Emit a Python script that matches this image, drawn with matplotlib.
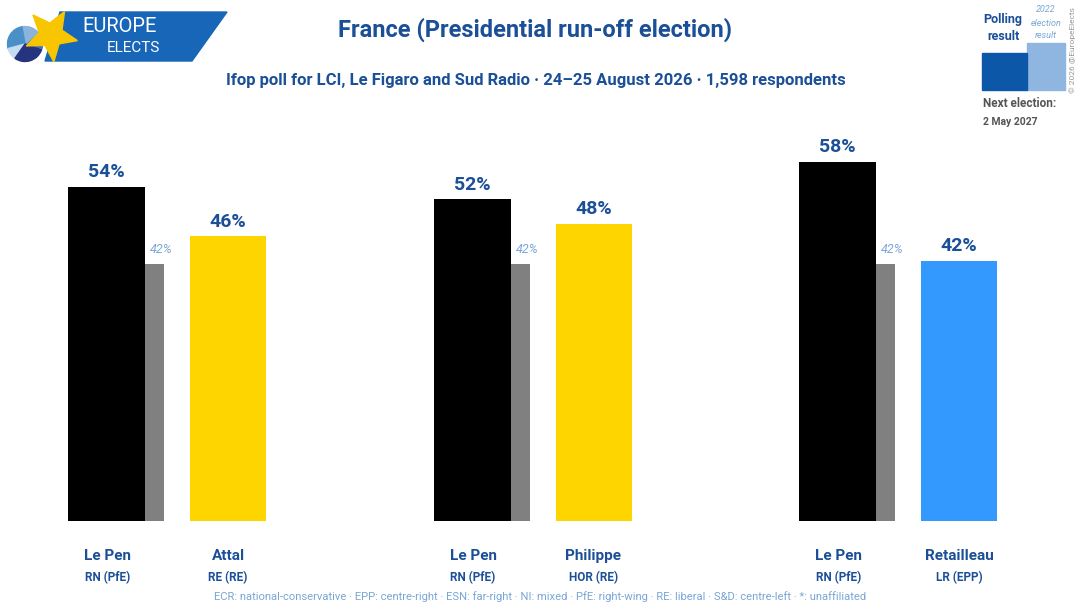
import matplotlib
matplotlib.use("Agg")
import matplotlib.pyplot as plt
from matplotlib.patches import Polygon, Rectangle, Wedge
import numpy as np

# data
names_a = ["Le Pen", "Le Pen", "Le Pen"]
parties_a = ["RN (PfE)", "RN (PfE)", "RN (PfE)"]
names_b = ["Attal", "Philippe", "Retailleau"]
parties_b = ["RE (RE)", "HOR (RE)", "LR (EPP)"]
poll_a = [54, 52, 58]
poll_b = [46, 48, 42]
prev_a = [41.5, 41.5, 41.5]   # 2022 result, shown as 42%
colors_a = ["#000000", "#000000", "#000000"]
colors_b = ["#FFD500", "#FFD500", "#3399FF"]

title = "France (Presidential run-off election)"
subtitle = "Ifop poll for LCI, Le Figaro and Sud Radio · 24–25 August 2026 · 1,598 respondents"
footer = ("ECR: national-conservative · EPP: centre-right · ESN: far-right · NI: mixed · "
          "PfE: right-wing · RE: liberal · S&D: centre-left · *: unaffiliated")

navy = "#1b4f98"
light = "#7aa6d6"
plt.rcParams['font.family'] = ['Roboto', 'DejaVu Sans']

W, H = 1080, 609
fig = plt.figure(figsize=(W / 100, H / 100), dpi=100)

# bar axes: x in pixels, y in percent (6.19 px per %)
ax = fig.add_axes([0, 88 / H, 1, 60 * 6.19 / H])
ax.set_xlim(0, W)
ax.set_ylim(0, 60)
ax.axis("off")

step = 365.5
wa, wg, wb, gap = 77, 19, 76, 26
for i in range(3):
    xa = 68 + i * step
    xg = xa + wa
    xb = xg + wg + gap
    ax.bar(xa, poll_a[i], width=wa, align="edge", color=colors_a[i])
    ax.bar(xg, prev_a[i], width=wg, align="edge", color="#808080")
    ax.bar(xb, poll_b[i], width=wb, align="edge", color=colors_b[i])
    ax.text(xa + wa / 2, poll_a[i] + 0.9, f"{poll_a[i]}%", ha="center", va="bottom",
            fontsize=14, fontweight="bold", color=navy)
    ax.text(xb + wb / 2, poll_b[i] + 0.9, f"{poll_b[i]}%", ha="center", va="bottom",
            fontsize=14, fontweight="bold", color=navy)
    ax.text(xg + wg / 2 + 7, prev_a[i] + 1.3, f"{prev_a[i]:.0f}%", ha="center", va="bottom",
            fontsize=9, fontstyle="italic", color=light)
    # candidate labels under bars
    for xc, nm, pt in [(xa + wa / 2 + 1, names_a[i], parties_a[i]),
                       (xb + wb / 2, names_b[i], parties_b[i])]:
        fig.text(xc / W, 1 - 556 / H, nm, ha="center", va="center",
                 fontsize=11, fontweight="bold", color=navy)
        fig.text(xc / W, 1 - 578 / H, pt, ha="center", va="center",
                 fontsize=8.5, fontweight="bold", color=navy)

# titles
fig.text(535 / W, 1 - 30 / H, title, ha="center", va="center",
         fontsize=17, fontweight="bold", color=navy)
fig.text(536 / W, 1 - 81 / H, subtitle, ha="center", va="center",
         fontsize=12, fontweight="bold", color=navy)
fig.text(540 / W, 1 - 597 / H, footer, ha="center", va="center",
         fontsize=8.1, color=light)

# logo
lg = fig.add_axes([0, 1 - 70 / H, 300 / W, 70 / H])
lg.set_xlim(0, 300)
lg.set_ylim(70, 0)
lg.axis("off")
lg.add_patch(Polygon([[60, 12], [227, 12], [192, 61], [45, 61]], color="#1766b8"))
pie_c = (25, 44)
for a1, a2, c in [(-20, 40, "#3f6fb8"), (40, 100, "#8ab4dc"), (100, 195, "#4a90c8"),
                  (195, 235, "#c5dbef"), (235, 340, "#26347f")]:
    lg.add_patch(Wedge(pie_c, 17.5, -a2, -a1, color=c))
ang = np.deg2rad(-132 + 36 * np.arange(10))
rad = np.where(np.arange(10) % 2 == 0, 27, 12)
star = np.column_stack([51 + rad * np.cos(ang), 35 + rad * np.sin(ang)])
lg.add_patch(Polygon(star, color="#f7c600"))
lg.text(120, 27, "EUROPE", color="white", fontsize=14.5, ha="center", va="center")
lg.text(133, 48.5, "ELECTS", color="white", fontsize=11, ha="center", va="center")

# legend box top right
lx = fig.add_axes([960 / W, 1 - 135 / H, 120 / W, 135 / H])
lx.set_xlim(960, 1080)
lx.set_ylim(135, 0)
lx.axis("off")
lx.add_patch(Rectangle((1027, 43), 38, 47, color="#8fb6e0"))
lx.add_patch(Rectangle((982, 53), 45, 37, color="#0d57a8"))
lx.text(1003, 19, "Polling", ha="center", va="center", fontsize=9, fontweight="bold", color=navy)
lx.text(1003, 37, "result", ha="center", va="center", fontsize=9, fontweight="bold", color=navy)
lx.text(1046, 10, "2022", ha="center", va="center", fontsize=6.5, fontstyle="italic", color=light)
lx.text(1046, 23, "election", ha="center", va="center", fontsize=6.5, fontstyle="italic", color=light)
lx.text(1046, 35, "result", ha="center", va="center", fontsize=6.5, fontstyle="italic", color=light)
lx.text(983, 103, "Next election:", ha="left", va="center", fontsize=8.5, fontweight="bold", color="#555555")
lx.text(983, 122, "2 May 2027", ha="left", va="center", fontsize=7.5, fontweight="bold", color="#555555")
lx.text(1073, 50, "© 2026 @EuropeElects", ha="center", va="center", rotation=90,
        fontsize=6, color="#999999")

fig.savefig("out.png", dpi=100)
